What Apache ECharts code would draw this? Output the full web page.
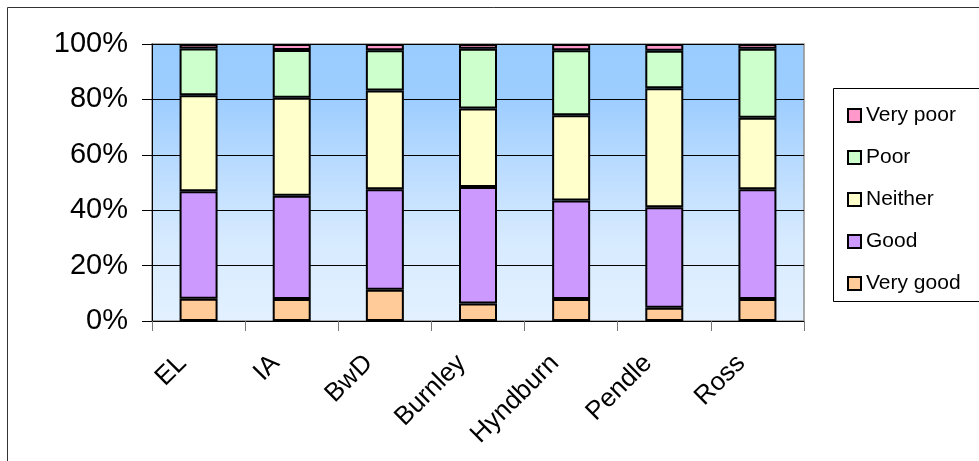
<!DOCTYPE html>
<html><head><meta charset="utf-8">
<script src="https://cdn.jsdelivr.net/npm/echarts@6/dist/echarts.min.js"></script>
<style>html,body{margin:0;padding:0;background:#fff}#c{width:979px;height:461px}</style>
</head><body><div id="c"></div>
<script>
const categories = ['EL','IA','BwD','Burnley','Hyndburn','Pendle','Ross'];
const veryGood = [8.0, 7.9, 11.3, 6.3, 7.9, 4.8, 7.9];
const good     = [38.8, 37.3, 36.3, 42.1, 35.6, 36.3, 39.7];
const neither  = [34.7, 35.4, 35.6, 28.3, 30.8, 42.9, 25.8];
const poor     = [16.9, 17.2, 14.5, 21.6, 23.4, 13.6, 24.9];
const veryPoor = [1.6, 2.2, 2.3, 1.7, 2.3, 2.4, 1.7];
const yTicks = [0, 20, 40, 60, 80, 100];

const FONT = '"Liberation Sans", Arial, sans-serif';
function s(name, data, color) {
  return {
    name: name, type: 'bar', stack: 'all', data: data, barWidth: 38,
    itemStyle: { color: color, borderColor: '#000', borderWidth: 2 },
    emphasis: { disabled: true }
  };
}
const chart = echarts.init(document.getElementById('c'), null, { renderer: 'canvas' });
chart.setOption({
  animation: false,
  backgroundColor: '#fff',
  grid: {
    left: 152, right: 175, top: 44, bottom: 140, show: true,
    borderColor: '#909090', borderWidth: 1.5,
    backgroundColor: { type: 'linear', x: 0, y: 0, x2: 0, y2: 1, colorStops: [
      { offset: 0, color: '#99CCFF' }, { offset: 0.2, color: '#9DCDFF' },
      { offset: 0.45, color: '#BBDCFF' }, { offset: 0.7, color: '#D6EAFF' },
      { offset: 1, color: '#E3F1FF' } ] }
  },
  legend: {
    orient: 'vertical', left: 842, top: 100, itemWidth: 13, itemHeight: 13, itemGap: 21,
    icon: 'rect',
    data: ['Very poor', 'Poor', 'Neither', 'Good', 'Very good'],
    textStyle: { fontFamily: FONT, fontSize: 21, color: '#000', padding: [0, 0, 0, 0] }
  },
  xAxis: {
    type: 'category', data: categories,
    axisLine: { lineStyle: { color: '#000', width: 1 } },
    axisTick: { show: true, length: 10, lineStyle: { color: '#777' } },
    axisLabel: { rotate: 45, fontFamily: FONT, fontSize: 26, color: '#000', margin: 22, padding: [0, 23, 0, 0] }
  },
  yAxis: {
    type: 'value', min: 0, max: 100, interval: 20,
    axisLine: { show: true, lineStyle: { color: '#000', width: 1 } },
    axisTick: { show: true, length: 10, lineStyle: { color: '#000' } },
    splitLine: { lineStyle: { color: '#000', width: 1 } },
    axisLabel: { fontFamily: FONT, fontSize: 29, color: '#000', margin: 24,
      formatter: function (v) { return yTicks.indexOf(v) >= 0 ? v + '%' : ''; } }
  },
  graphic: [
    { type: 'rect', shape: { x: 7.5, y: 7.5, width: 1000, height: 500 }, style: { fill: null, stroke: '#333', lineWidth: 1 }, z: -10, silent: true },
    { type: 'rect', shape: { x: 833.5, y: 88.5, width: 200, height: 213 }, style: { fill: '#fff', stroke: '#000', lineWidth: 1 }, z: -5, silent: true }
  ],
  series: [
    s('Very good', veryGood, '#FFCC99'),
    s('Good', good, '#CC99FF'),
    s('Neither', neither, '#FFFFCC'),
    s('Poor', poor, '#CCFFCC'),
    s('Very poor', veryPoor, '#FF99CC')
  ]
});
</script></body></html>
